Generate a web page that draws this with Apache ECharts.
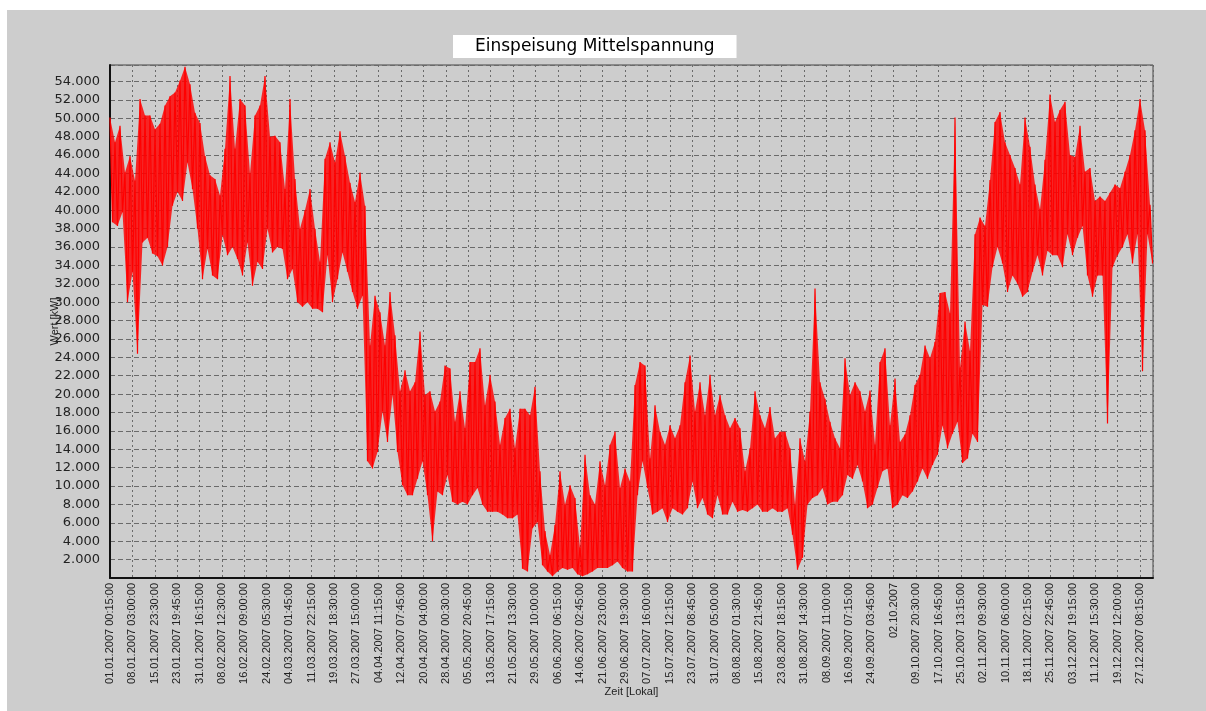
<!DOCTYPE html>
<html>
<head>
<meta charset="utf-8">
<script src="https://cdn.jsdelivr.net/npm/echarts/dist/echarts.min.js"></script>
<style>
html,body{margin:0;padding:0;background:#ffffff;width:1206px;height:711px;overflow:hidden}
#c{position:absolute;left:7px;top:10px;width:1199px;height:701px;background:#cdcdcd}
</style>
</head>
<body>
<div id="c"></div>
<script>
// Tick labels of the time axis (one per dashed vertical grid line)
const tickLabels = [
 "01.01.2007 00:15:00","08.01.2007 03:00:00","15.01.2007 23:30:00","23.01.2007 19:45:00",
 "31.01.2007 16:15:00","08.02.2007 12:30:00","16.02.2007 09:00:00","24.02.2007 05:30:00",
 "04.03.2007 01:45:00","11.03.2007 22:15:00","19.03.2007 18:30:00","27.03.2007 15:00:00",
 "04.04.2007 11:15:00","12.04.2007 07:45:00","20.04.2007 04:00:00","28.04.2007 00:30:00",
 "05.05.2007 20:45:00","13.05.2007 17:15:00","21.05.2007 13:30:00","29.05.2007 10:00:00",
 "06.06.2007 06:15:00","14.06.2007 02:45:00","21.06.2007 23:00:00","29.06.2007 19:30:00",
 "07.07.2007 16:00:00","15.07.2007 12:15:00","23.07.2007 08:45:00","31.07.2007 05:00:00",
 "08.08.2007 01:30:00","15.08.2007 21:45:00","23.08.2007 18:15:00","31.08.2007 14:30:00",
 "08.09.2007 11:00:00","16.09.2007 07:15:00","24.09.2007 03:45:00","02.10.2007",
 "09.10.2007 20:30:00","17.10.2007 16:45:00","25.10.2007 13:15:00","02.11.2007 09:30:00",
 "10.11.2007 06:00:00","18.11.2007 02:15:00","25.11.2007 22:45:00","03.12.2007 19:15:00",
 "11.12.2007 15:30:00","19.12.2007 12:00:00","27.12.2007 08:15:00"
];

// Sample spacing in axis units (one axis unit = one tick label interval)
const SAMPLE_STEP = 0.2233;

// Upper values (kW) of each sample period
const hiVals = [
 50100,47400,49200,44100,45900,43200,52100,50300,50300,48800,
 49400,51400,52400,52800,54100,55600,53700,50600,49500,45900,
 43800,43400,41600,46700,54600,46700,52100,51400,44000,50300,
 51400,54600,48000,48100,47400,42300,52100,43400,38000,40000,
 42300,38000,34400,45600,47400,45200,48600,45900,43000,40900,
 44100,40500,25300,30700,28900,25300,31100,26400,20300,22600,
 20300,21300,26800,19900,20300,18100,19200,23100,22800,17000,
 20300,16300,23500,23500,25000,18800,22100,19200,14500,17400,
 18400,14100,18400,18400,17700,20800,11600,5100,2500,5800,
 11600,8000,10100,8700,3300,13400,9000,8000,12700,10100,
 14500,15900,9800,11900,10500,21000,23500,23100,13000,18800,
 15900,14500,16600,15200,16600,21300,24200,18100,21300,17700,
 22100,17700,19900,17700,16300,17400,16300,11600,14100,20300,
 17700,16300,18600,15200,15900,15900,14100,8000,15200,12700,
 18100,31500,21300,19500,17000,15200,14100,23900,19900,21300,
 20300,18100,20400,14500,23500,25000,16600,21700,14800,15600,
 17700,21000,22100,25300,23900,25700,31000,31100,28800,50100,
 22900,27900,24700,37400,39200,38300,43300,49600,50700,47400,
 46000,44600,42800,50100,46900,42800,40100,45500,52600,49600,
 50900,51800,46000,45800,49200,44200,44600,41000,41500,41000,
 41900,42800,42400,44200,46000,48700,52100,48700,40600
];

// Lower values (kW) of each sample period
const loVals = [
 38700,38300,39800,30000,33300,24400,36500,37000,35300,35000,
 34000,36000,40500,42000,41000,45200,42300,38000,32500,35800,
 32900,32500,37300,35100,36000,34700,32900,36500,31800,34400,
 33600,38000,35400,36000,35800,32500,33600,30000,29500,30000,
 29300,29300,28900,35100,30000,32500,35400,33300,31100,29300,
 30700,12700,11900,13700,18100,14800,19900,13700,10100,9000,
 9000,10800,12700,9000,4000,9400,9000,11200,8300,8000,
 8300,8000,9000,9800,8000,7200,7200,7200,6900,6500,
 6500,6900,1000,700,5400,6100,1400,700,200,700,
 1100,900,1100,400,200,400,700,1100,1100,1100,
 1400,1800,1100,700,700,9000,12700,9800,6900,7200,
 7600,6100,7600,7200,6900,7600,10500,7600,8700,6900,
 6500,9000,6900,6900,8300,7200,7400,7200,7600,8000,
 7200,7200,7600,7200,7200,7600,4700,900,2200,8000,
 8700,9000,9800,8000,8300,8300,9000,11200,10800,12300,
 10500,7600,8000,9800,11600,11900,7600,8000,9000,8700,
 9400,10500,11900,10800,12300,13400,16600,14100,15700,17000,
 12500,13000,15700,14800,29700,29500,33800,36000,34200,31100,
 32900,32000,30600,31100,33300,35100,32900,35600,35100,35100,
 33800,37400,35100,37000,38300,32900,30600,32900,32900,16800,
 33800,35100,36000,37400,34200,37400,22500,37400,34200
];

const lineData = [];
for (let i = 0; i < hiVals.length; i++) {
  lineData.push([i * SAMPLE_STEP, hiVals[i]]);
  lineData.push([i * SAMPLE_STEP + SAMPLE_STEP / 2, loVals[i]]);
}

const chart = echarts.init(document.getElementById('c'), null, {renderer: 'canvas'});
chart.setOption({
  animation: false,
  backgroundColor: '#cdcdcd',
  title: {
    text: 'Einspeisung Mittelspannung',
    left: 446, top: 25,
    backgroundColor: '#ffffff',
    padding: [2, 22, 1, 22],
    textStyle: {fontFamily: 'DejaVu Sans', fontSize: 17, fontWeight: 'normal', color: '#000000', lineHeight: 20}
  },
  grid: {
    left: 103, top: 55, right: 53, bottom: 133,
    show: true, borderColor: '#444444', borderWidth: 1, backgroundColor: 'transparent'
  },
  xAxis: {
    type: 'value', min: 0, max: 46.58, interval: 1,
    name: 'Zeit [Lokal]', nameLocation: 'middle', nameGap: 108, nameMoveOverlap: false,
    nameTextStyle: {fontFamily: 'Liberation Sans', fontSize: 11, color: '#222222'},
    axisLine: {show: true, onZero: false, lineStyle: {color: '#111111', width: 2}},
    axisTick: {show: false},
    axisLabel: {
      rotate: 90, margin: 5, fontFamily: 'Liberation Sans', fontSize: 11, color: '#222222',
      showMinLabel: true, showMaxLabel: true,
      formatter: v => (Number.isInteger(v) && tickLabels[v]) ? tickLabels[v] : ''
    },
    splitLine: {show: true, lineStyle: {color: '#6a6a6a', width: 1, type: [2, 3]}}
  },
  yAxis: {
    type: 'value', min: 0, max: 55800, interval: 2000,
    name: 'Wert [kW]', nameLocation: 'middle', nameGap: 50, nameRotate: 90, nameMoveOverlap: false,
    nameTextStyle: {fontFamily: 'Liberation Sans', fontSize: 11, color: '#222222'},
    axisLine: {show: true, lineStyle: {color: '#111111', width: 2}},
    axisTick: {show: false},
    axisLabel: {
      margin: 10, fontFamily: 'DejaVu Sans', fontSize: 13, color: '#222222',
      formatter: v => (v > 0 && v % 2000 === 0) ? (v / 1000) + '.000' : ''
    },
    splitLine: {show: true, lineStyle: {color: '#6a6a6a', width: 1, type: [5, 3]}}
  },
  series: [{
    // envelope between the upper and lower readings
    type: 'custom',
    data: [[0]],
    clip: true,
    silent: true,
    z: 4,
    renderItem: function (params, api) {
      const pts = [];
      for (let i = 0; i < hiVals.length; i++) {
        pts.push(api.coord([i * SAMPLE_STEP, hiVals[i]]));
      }
      for (let i = loVals.length - 1; i >= 0; i--) {
        pts.push(api.coord([i * SAMPLE_STEP + SAMPLE_STEP / 2, loVals[i]]));
      }
      return {type: 'polygon', shape: {points: pts}, style: {fill: 'rgba(255,0,0,0.82)'}};
    }
  }, {
    type: 'line',
    data: lineData,
    showSymbol: false,
    symbol: 'none',
    sampling: null,
    lineStyle: {color: '#ff0000', width: 1.2},
    z: 5
  }]
});
</script>
</body>
</html>
